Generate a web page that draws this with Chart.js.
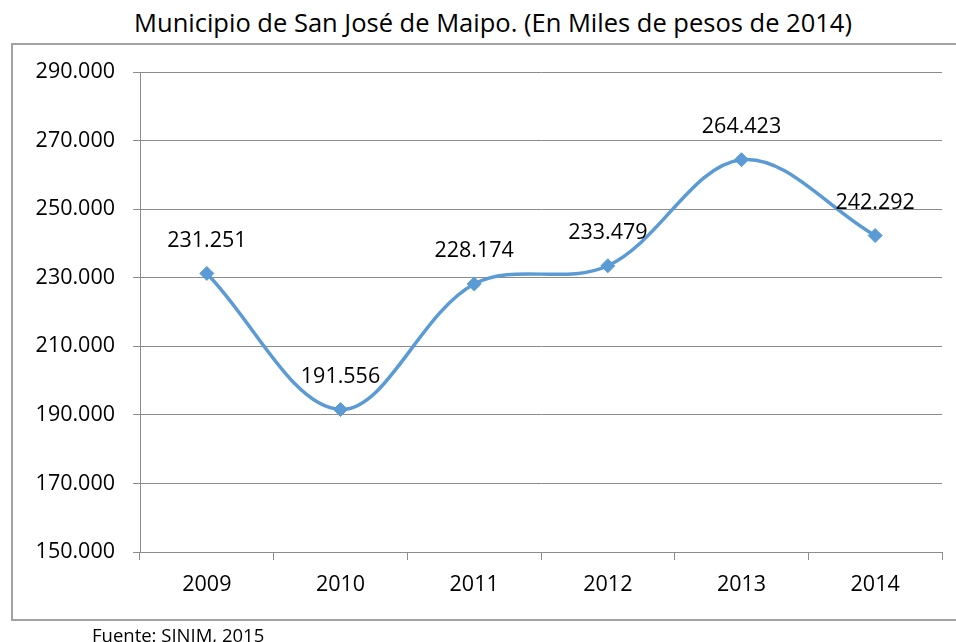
<!DOCTYPE html>
<html>
<head>
<meta charset="utf-8">
<script src="https://cdn.jsdelivr.net/npm/chart.js@4/dist/chart.umd.min.js"></script>
<style>
  body { margin: 0; background: #fff; width: 956px; height: 642px; overflow: hidden; position: relative; font-family: "Open Sans", sans-serif; }
  #marco { position: absolute; left: 11px; top: 43px; width: 960px; height: 578px; border: 2px solid #a2a2a2; box-sizing: border-box; }
  #titulo { position: absolute; left: 0; top: 7px; width: 986px; text-align: center; font-size: 25.5px; line-height: 30px; color: #000; }
  #fuente { position: absolute; left: 92px; top: 626px; font-size: 18.5px; line-height: 18px; color: #000; }
  canvas { position: absolute; left: 0; top: 0; }
</style>
</head>
<body>
<div id="marco"></div>
<div id="titulo">Municipio de San José de Maipo. (En Miles de pesos de 2014)</div>
<canvas id="grafico" width="956" height="642"></canvas>
<div id="fuente">Fuente: SINIM, 2015</div>
<script>
// datos
const anios = ['2009', '2010', '2011', '2012', '2013', '2014'];
const montos = [231251, 191556, 228174, 233479, 264423, 242292];
const ejeMin = 150000;
const ejeMax = 290000;
const ejePaso = 20000;

const colorLinea = '#5B9BD5';
const colorGrilla = '#8c8c8c';
const fuenteBase = { family: '"Open Sans", sans-serif', size: 21.5 };

// formato con punto de miles
function formatoMiles(valor) {
  return String(Math.round(valor)).replace(/\B(?=(\d{3})+(?!\d))/g, '.');
}

// etiquetas sobre cada punto
const etiquetasDatos = {
  id: 'etiquetasDatos',
  afterDatasetsDraw(chart) {
    const ctx = chart.ctx;
    const meta = chart.getDatasetMeta(0);
    ctx.save();
    ctx.font = '21.5px "Open Sans", sans-serif';
    ctx.fillStyle = '#000';
    ctx.textAlign = 'center';
    ctx.textBaseline = 'middle';
    meta.data.forEach((punto, i) => {
      ctx.fillText(formatoMiles(montos[i]), punto.x, punto.y - 33);
    });
    ctx.restore();
  }
};

new Chart(document.getElementById('grafico'), {
  type: 'line',
  data: {
    labels: anios,
    datasets: [{
      data: montos,
      borderColor: colorLinea,
      backgroundColor: colorLinea,
      borderWidth: 3.5,
      tension: 0.35,
      pointStyle: 'rectRot',
      pointRadius: 7,
      pointBorderWidth: 1,
      pointBackgroundColor: colorLinea,
      pointBorderColor: colorLinea,
      fill: false
    }]
  },
  options: {
    responsive: false,
    animation: false,
    layout: { padding: { top: 72, right: 14, left: 0, bottom: 0 } },
    plugins: {
      legend: { display: false },
      title: { display: false },
      tooltip: { enabled: false }
    },
    scales: {
      x: {
        offset: true,
        grid: { offset: true, drawOnChartArea: false, drawTicks: true, tickLength: 8, color: colorGrilla, lineWidth: 1 },
        border: { color: colorGrilla, width: 1 },
        ticks: { color: '#000', font: fuenteBase, padding: 12, maxRotation: 0 },
        afterFit(scale) { scale.height = 90; }
      },
      y: {
        min: ejeMin,
        max: ejeMax,
        grid: { color: colorGrilla, lineWidth: 1, tickLength: 7 },
        border: { color: colorGrilla, width: 1 },
        ticks: {
          stepSize: ejePaso,
          color: '#000',
          font: fuenteBase,
          padding: 18,
          callback: (valor) => formatoMiles(valor)
        },
        afterFit(scale) { scale.width = 140; }
      }
    }
  },
  plugins: [etiquetasDatos]
});
</script>
</body>
</html>
